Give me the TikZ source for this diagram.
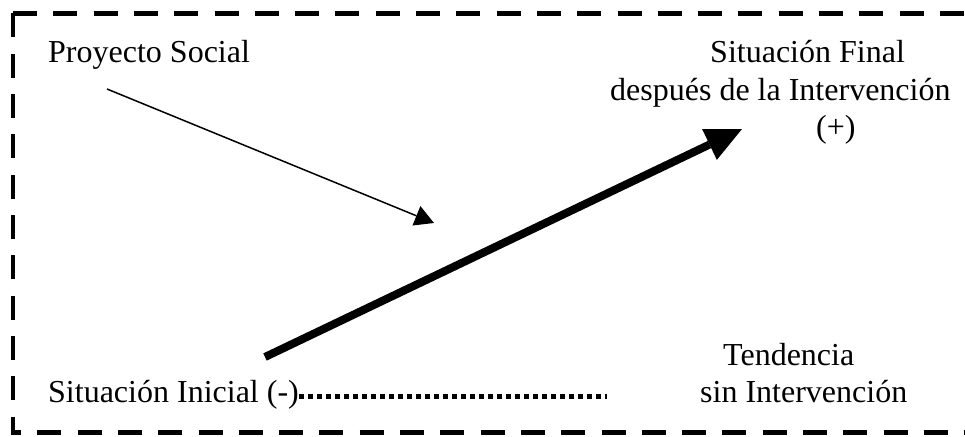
\documentclass[tikz,border=0pt]{standalone}
\usepackage{fontspec}
\setmainfont{Liberation Serif}
\usetikzlibrary{arrows.meta}

\begin{document}
\begin{tikzpicture}[x=1pt, y=-1pt,
  txt/.style={inner sep=0pt, anchor=base west, font=\fontsize{32}{37}\selectfont},
  frame/.style={line width=4.5pt, dash pattern=on 24pt off 16.3pt},
  arrowthin/.style={line width=1.5pt, -{Triangle[length=19pt, width=21pt, line width=0pt]}},
  arrowthick/.style={line width=8pt, -{Triangle[length=36pt, width=34pt, line width=0pt]}},
  trend/.style={line width=5pt, dash pattern=on 5pt off 4pt}]
  \useasboundingbox (0,0) rectangle (965,436);
  % dashed frame, open on the right
  \coordinate (tl) at (13,13.5);
  \coordinate (tr) at (980,13.5);
  \coordinate (bl) at (13,432.5);
  \coordinate (br) at (980,432.5);
  \draw[frame] (tl) -- (tr);
  \draw[frame] (tl) -- (bl) -- (br);
  % texts
  \node[txt] (social) at (48,63) {Proyecto Social};
  \node[txt] (final) at (710,63) {Situación Final};
  \node[txt] (despues) at (610,100) {después de la Intervención};
  \node[txt] (mas) at (816,137) {(+)};
  \node[txt] (tendencia) at (723,365) {Tendencia};
  \node[txt] (sin) at (700,402) {sin Intervención};
  \node[txt] (inicial) at (48,402) {Situación Inicial (-)};
  % arrows
  \coordinate (socialtail) at (107,89);
  \coordinate (socialtip) at (434,223);
  \coordinate (inicialtail) at (265,357);
  \coordinate (finaltip) at (742,129);
  \coordinate (trendend) at (607,396);
  \draw[arrowthin] (socialtail) -- (socialtip);
  \draw[arrowthick] (inicialtail) -- (finaltip);
  \draw[trend] (inicial.east |- trendend) -- (trendend);
\end{tikzpicture}
\end{document}
